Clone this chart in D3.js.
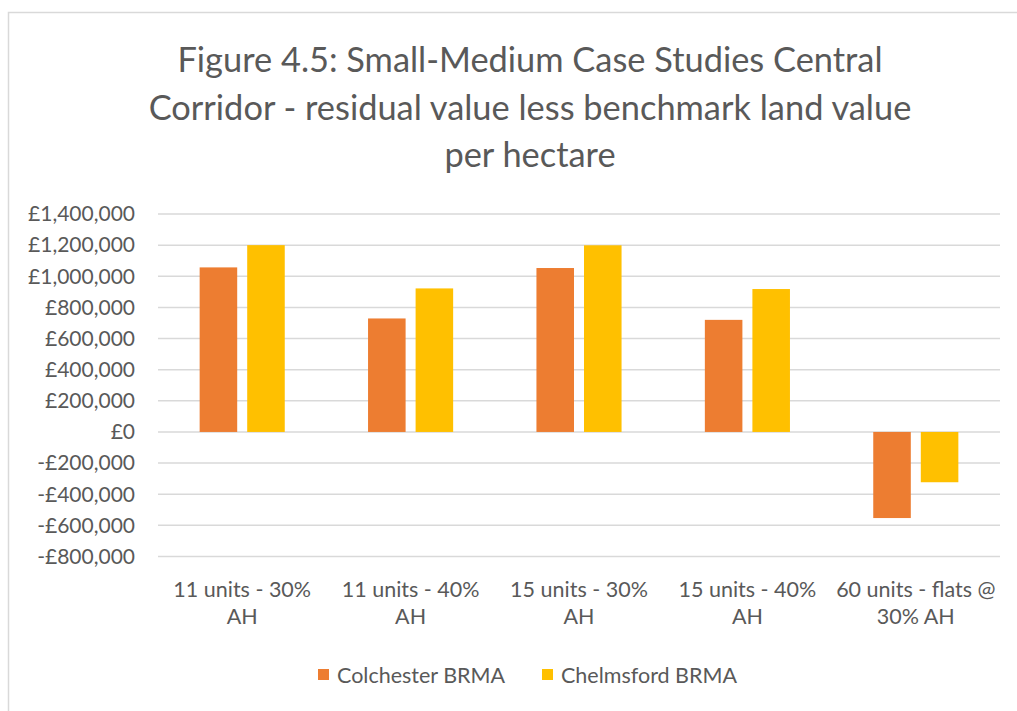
<!DOCTYPE html>
<meta charset="utf-8">
<head>
    <script type="text/javascript" src="https://cdn.jsdelivr.net/npm/d3@7"></script>
    <style>
        body { margin: 0; background: #fff; }
        text { font-family: Lato, "Open Sans", sans-serif; fill: #595959; }
    </style>
</head>
<body>
<div id="chart"></div>
</body>
<script>
    // chart data
    var categories = [["11 units - 30%", "AH"], ["11 units - 40%", "AH"], ["15 units - 30%", "AH"],
        ["15 units - 40%", "AH"], ["60 units - flats @", "30% AH"]];
    var seriesNames = ["Colchester BRMA", "Chelmsford BRMA"];
    var colchester = [1057000, 729000, 1053000, 720000, -553000];
    var chelmsford = [1200000, 922000, 1199000, 918000, -323000];
    var yTicks = [-800000, -600000, -400000, -200000, 0, 200000, 400000, 600000, 800000, 1000000, 1200000, 1400000];
    var titleLines = ["Figure 4.5: Small-Medium Case Studies Central",
        "Corridor - residual value less benchmark land value", "per hectare"];

    var colors = ["#ED7D31", "#FFC000"];
    var width = 1017, height = 711;
    var margin = {top: 214, right: 17, bottom: 155, left: 158};

    var svg = d3.select('#chart').append('svg')
        .attr('width', width)
        .attr('height', height);

    // chart border
    svg.append('rect')
        .attr('x', 8.5).attr('y', 12.5)
        .attr('width', 1100).attr('height', 800)
        .attr('fill', 'none').attr('stroke', '#d9d9d9').attr('stroke-width', 1.5);

    // title
    svg.append('g').selectAll('text')
        .data(titleLines)
        .enter().append('text')
        .attr('x', 530)
        .attr('y', (d, i) => 72 + i * 47.5)
        .attr('text-anchor', 'middle')
        .style('font-size', '34.4px')
        .text(d => d);

    var y = d3.scaleLinear()
        .domain([-800000, 1400000])
        .range([height - margin.bottom + 0.5, margin.top]);

    var x = d3.scaleBand()
        .domain(d3.range(categories.length))
        .range([margin.left, width - margin.right]);

    // gridlines
    svg.append('g').selectAll('line')
        .data(yTicks)
        .enter().append('line')
        .attr('x1', margin.left).attr('x2', width - margin.right)
        .attr('y1', d => y(d)).attr('y2', d => y(d))
        .attr('stroke', '#d9d9d9').attr('stroke-width', 1.5);

    // y axis labels
    var fmt = d3.format(',');
    svg.append('g').selectAll('text')
        .data(yTicks)
        .enter().append('text')
        .attr('x', 135)
        .attr('y', d => y(d))
        .attr('dy', '0.35em')
        .attr('text-anchor', 'end')
        .style('font-size', '21px')
        .text(d => (d < 0 ? '-£' : '£') + fmt(Math.abs(d)));

    // bars
    var barW = x.bandwidth() * 0.223;
    var gap = 10;
    var series = [colchester, chelmsford];
    series.forEach(function (vals, s) {
        svg.append('g').selectAll('rect')
            .data(vals)
            .enter().append('rect')
            .attr('x', (d, i) => x(i) + x.bandwidth() / 2 - barW - gap / 2 + s * (barW + gap))
            .attr('y', d => y(Math.max(0, d)))
            .attr('width', barW)
            .attr('height', d => Math.abs(y(d) - y(0)))
            .attr('fill', colors[s]);
    });

    // category labels
    var cat = svg.append('g').selectAll('text')
        .data(categories)
        .enter().append('text')
        .attr('x', (d, i) => x(i) + x.bandwidth() / 2)
        .attr('y', 597)
        .attr('text-anchor', 'middle')
        .style('font-size', '21.5px');
    cat.selectAll('tspan')
        .data(d => d)
        .enter().append('tspan')
        .attr('x', function () { return d3.select(this.parentNode).attr('x'); })
        .attr('dy', (d, i) => i === 0 ? 0 : 27)
        .text(d => d);

    // legend
    var legendX = [318, 542];
    var legend = svg.append('g').selectAll('g')
        .data(seriesNames)
        .enter().append('g')
        .attr('transform', (d, i) => 'translate(' + legendX[i] + ',669)');
    legend.append('rect')
        .attr('width', 11).attr('height', 11)
        .attr('fill', (d, i) => colors[i]);
    legend.append('text')
        .attr('x', 19).attr('y', 6)
        .attr('dy', '0.35em')
        .style('font-size', '21.5px')
        .text(d => d);
</script>
</html>
